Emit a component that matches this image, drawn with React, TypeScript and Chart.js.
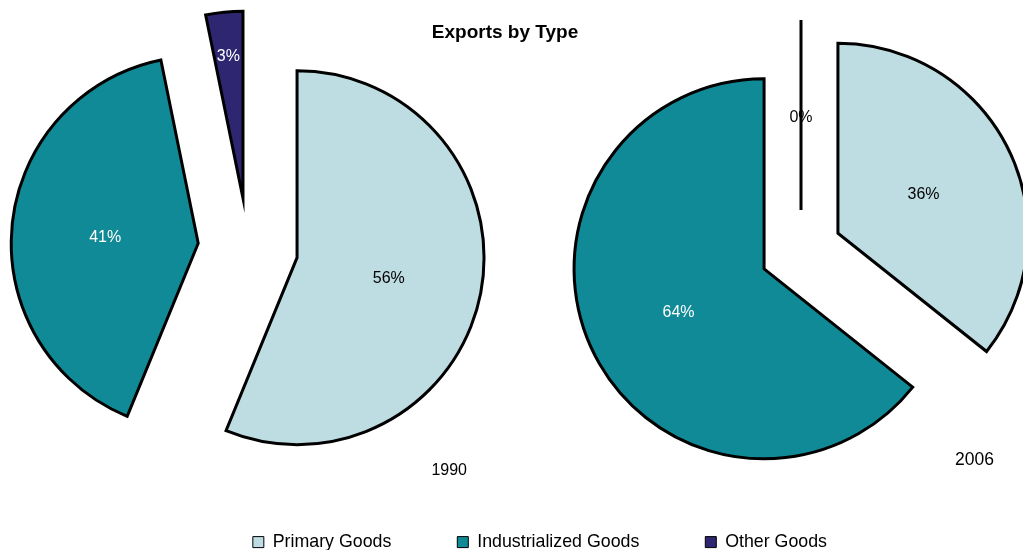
import React, { useEffect, useRef } from 'react';
import { Chart, registerables } from 'chart.js';

Chart.register(...registerables);

// ---- data ----
const chartTitle = 'Exports by Type';
const categories = ['Primary Goods', 'Industrialized Goods', 'Other Goods'];
const values1990 = [56.2, 40.6, 3.2];
const values2006 = [35.7, 64.3, 0];
const yearLabels = ['1990', '2006'];

// ---- styles ----
const sliceColors = ['#BEDDE2', '#118A97', '#2E2670'];
const labelColors = ['#000000', '#FFFFFF', '#FFFFFF'];
const FONT = '"Liberation Sans", Arial, Helvetica, sans-serif';
Chart.defaults.font.family = FONT;

// Draws the exploded wedges (all slices pulled out by the same distance) and their percent labels,
// using the geometry computed by Chart.js's pie controller.
const explodedPie = {
  id: 'explodedPie',
  beforeDatasetsDraw(chart: any, _args: any, opts: any) {
    const meta = chart.getDatasetMeta(0);
    const values = chart.data.datasets[0].data as number[];
    const total = values.reduce((a, b) => a + b, 0);
    const ctx = chart.ctx as CanvasRenderingContext2D;
    const D = opts.explode || 0;
    const geo = meta.data.map((el: any) => {
      const p = el.getProps(['x', 'y', 'startAngle', 'endAngle', 'outerRadius'], true);
      const mid = (p.startAngle + p.endAngle) / 2;
      return { ...p, mid, ax: p.x + Math.cos(mid) * D, ay: p.y + Math.sin(mid) * D, options: el.options };
    });
    ctx.save();
    geo.forEach((g: any) => {
      ctx.beginPath();
      ctx.moveTo(g.ax, g.ay);
      ctx.arc(g.ax, g.ay, g.outerRadius, g.startAngle, g.endAngle);
      ctx.closePath();
      ctx.fillStyle = g.options.backgroundColor;
      ctx.fill();
      ctx.lineWidth = g.options.borderWidth;
      ctx.strokeStyle = g.options.borderColor;
      ctx.lineJoin = 'miter';
      ctx.miterLimit = 12;
      ctx.stroke();
    });
    ctx.font = `${opts.labelSize}px ${FONT}`;
    ctx.textAlign = 'center';
    ctx.textBaseline = 'middle';
    geo.forEach((g: any, i: number) => {
      const span = g.endAngle - g.startAngle;
      const f = span > 0 && span < 0.35 ? 0.78 : 0.5;
      const lx = g.ax + Math.cos(g.mid) * g.outerRadius * f;
      const ly = g.ay + Math.sin(g.mid) * g.outerRadius * f + (opts.labelShiftY || 0);
      ctx.fillStyle = values[i] === 0 ? '#000000' : opts.labelColors[i];
      ctx.fillText(Math.round((values[i] / total) * 100) + '%', lx, ly);
    });
    ctx.restore();
    return false;
  },
};

function pieConfig(values: number[], year: string, o: any): any {
  return {
    type: 'pie',
    data: {
      labels: categories,
      datasets: [
        {
          data: values,
          backgroundColor: sliceColors,
          borderColor: '#000000',
          borderWidth: 3,
          radius: o.radius,
        },
      ],
    },
    options: {
      animation: false,
      responsive: true,
      maintainAspectRatio: false,
      events: [],
      layout: { padding: o.padding },
      plugins: {
        legend: { display: false },
        tooltip: { enabled: false },
        title: { display: false },
        subtitle: {
          display: true,
          text: year,
          position: 'bottom',
          align: 'end',
          color: '#000000',
          font: { family: FONT, size: o.yearSize, weight: 'normal', lineHeight: 1.2 },
          padding: 0,
        },
        explodedPie: { explode: o.explode, labelColors, labelSize: 16, labelShiftY: 3 },
      },
    },
    plugins: [explodedPie],
  };
}

const frameConfig: any = {
  type: 'pie',
  data: { labels: categories, datasets: [] },
  options: {
    animation: false,
    responsive: true,
    maintainAspectRatio: false,
    events: [],
    layout: { padding: { left: 117, right: 130, top: 11, bottom: -11 } },
    plugins: {
      tooltip: { enabled: false },
      title: {
        display: true,
        text: chartTitle,
        color: '#000000',
        font: { family: FONT, size: 19, weight: 'bold', lineHeight: 1.2 },
        padding: { top: 10, bottom: 10 },
      },
      legend: {
        display: true,
        position: 'bottom',
        align: 'end',
        labels: {
          color: '#000000',
          font: { family: FONT, size: 17.8 },
          boxWidth: 11,
          boxHeight: 11,
          padding: 66,
          generateLabels: (chart: any) =>
            (chart.data.labels as string[]).map((t, i) => ({
              text: t,
              fillStyle: sliceColors[i],
              strokeStyle: '#000000',
              lineWidth: 1,
              fontColor: '#000000',
              hidden: false,
              index: i,
            })),
        },
      },
    },
  },
};

export default function App() {
  const frameRef = useRef<HTMLCanvasElement>(null);
  const leftRef = useRef<HTMLCanvasElement>(null);
  const rightRef = useRef<HTMLCanvasElement>(null);

  useEffect(() => {
    document.body.style.margin = '0';
    const charts = [
      new Chart(leftRef.current as HTMLCanvasElement,
        pieConfig(values1990, yearLabels[0], {
          radius: 187,
          explode: 50,
          yearSize: 16,
          padding: { left: 29, right: 556, top: 34.6, bottom: 69.4 },
        })),
      new Chart(rightRef.current as HTMLCanvasElement,
        pieConfig(values2006, yearLabels[1], {
          radius: 190,
          explode: 41,
          yearSize: 17.5,
          padding: { left: 608, right: 29, top: 52.5, bottom: 79.5 },
        })),
      new Chart(frameRef.current as HTMLCanvasElement, frameConfig),
    ];
    return () => charts.forEach((c) => c.destroy());
  }, []);

  const layer: React.CSSProperties = { position: 'absolute', left: 0, top: 0, width: 1023, height: 550 };
  return (
    <div style={{ position: 'relative', width: 1023, height: 550, background: '#ffffff', overflow: 'hidden' }}>
      <div style={layer}><canvas ref={leftRef} /></div>
      <div style={layer}><canvas ref={rightRef} /></div>
      <div style={layer}><canvas ref={frameRef} /></div>
    </div>
  );
}
